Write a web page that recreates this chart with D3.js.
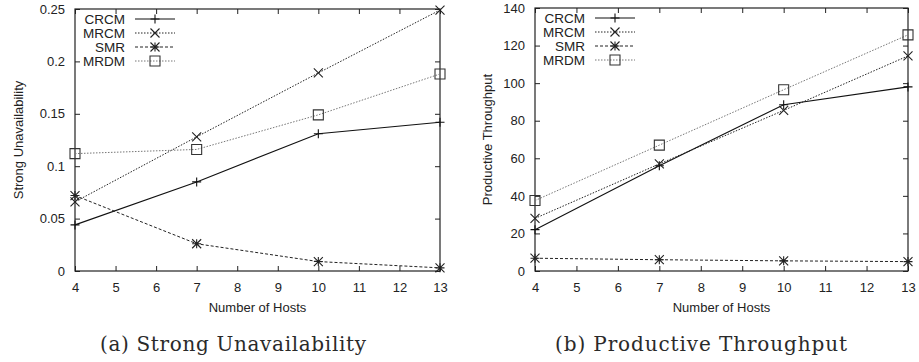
<!DOCTYPE html>
<html>
<head>
<meta charset="utf-8">
<script src="https://cdn.jsdelivr.net/npm/d3@7"></script>
<style>
  body { margin: 0; background: #fff; }
  svg { display: block; }
  .tick text { font-family: "Liberation Sans", Arial, sans-serif; font-size: 13px; fill: #222; }
  .axis-label { font-family: "Liberation Sans", Arial, sans-serif; font-size: 13px; fill: #222; }
  .legend-label { font-family: "Liberation Sans", Arial, sans-serif; font-size: 13.5px; fill: #222; }
  .caption { font-family: "DejaVu Serif", "Liberation Serif", serif; font-size: 20px; fill: #2a2a2a; }
</style>
</head>
<body>
<svg id="chart"></svg>
<script>
// Data
const hosts = [4, 7, 10, 13];
const seriesNames = ["CRCM", "MRCM", "SMR", "MRDM"];

// (a) Strong Unavailability
const unavailCRCM = [0.044, 0.085, 0.131, 0.142];
const unavailMRCM = [0.066, 0.128, 0.189, 0.249];
const unavailSMR  = [0.072, 0.026, 0.009, 0.003];
const unavailMRDM = [0.112, 0.116, 0.149, 0.188];

// (b) Productive Throughput
const thrCRCM = [22, 56, 88.5, 98];
const thrMRCM = [28, 57, 85.5, 114.5];
const thrSMR  = [6.8, 6.0, 5.4, 5.0];
const thrMRDM = [37.5, 67, 96.5, 125.7];

const xTicks = [4, 5, 6, 7, 8, 9, 10, 11, 12, 13];
const unavailTicks = [0, 0.05, 0.1, 0.15, 0.2, 0.25];
const thrTicks = [0, 20, 40, 60, 80, 100, 120, 140];

const width = 919;
const height = 362;

const svg = d3.select("#chart")
    .attr("width", width)
    .attr("height", height)
    .attr("viewBox", [0, 0, width, height]);

svg.append("rect").attr("width", width).attr("height", height).attr("fill", "#fff");

// line styles per series (gnuplot look)
const styles = {
  CRCM: { stroke: "#111", dash: null, width: 1.1, marker: "plus" },
  MRCM: { stroke: "#222", dash: "1.5,1.5", width: 1, marker: "cross" },
  SMR:  { stroke: "#222", dash: "3,2", width: 1, marker: "star" },
  MRDM: { stroke: "#777", dash: "1.5,1.5", width: 1, marker: "square" }
};

function drawMarker(g, type, cx, cy, color) {
  const s = 4.5;
  const p = g.append("path")
      .attr("fill", "none")
      .attr("stroke", color)
      .attr("stroke-width", 1.1);
  if (type === "plus") {
    p.attr("d", `M${cx - s},${cy}H${cx + s}M${cx},${cy - s}V${cy + s}`);
  } else if (type === "cross") {
    p.attr("d", `M${cx - s},${cy - s}L${cx + s},${cy + s}M${cx - s},${cy + s}L${cx + s},${cy - s}`);
  } else if (type === "star") {
    p.attr("d", `M${cx - s},${cy}H${cx + s}M${cx},${cy - s}V${cy + s}` +
      `M${cx - s},${cy - s}L${cx + s},${cy + s}M${cx - s},${cy + s}L${cx + s},${cy - s}`);
  } else {
    const q = 5;
    p.attr("d", `M${cx - q},${cy - q}H${cx + q}V${cy + q}H${cx - q}Z`).attr("stroke", "#333");
  }
}

function drawPanel(opt) {
  const g = svg.append("g");
  const x = d3.scaleLinear().domain([4, 13]).range([opt.left, opt.right]);
  const y = d3.scaleLinear().domain(opt.yDomain).range([opt.bottom, opt.top]);

  // x axis, ticks pointing inwards, mirrored on top
  g.append("g")
      .attr("transform", `translate(0,${opt.bottom})`)
      .call(d3.axisBottom(x).tickValues(xTicks).tickSize(-5).tickPadding(12).tickFormat(d3.format("d")))
      .call(a => a.select(".domain").remove());
  g.append("g")
      .attr("transform", `translate(0,${opt.top})`)
      .call(d3.axisTop(x).tickValues(xTicks).tickSize(-5).tickFormat(""))
      .call(a => a.select(".domain").remove());

  g.append("g")
      .attr("transform", `translate(${opt.left},0)`)
      .call(d3.axisLeft(y).tickValues(opt.yTicks).tickSize(-5).tickPadding(10).tickFormat(opt.yFormat))
      .call(a => a.select(".domain").remove());
  g.append("g")
      .attr("transform", `translate(${opt.right},0)`)
      .call(d3.axisRight(y).tickValues(opt.yTicks).tickSize(-5).tickFormat(""))
      .call(a => a.select(".domain").remove());

  g.selectAll(".tick line").attr("stroke", "#222");

  // frame
  g.append("rect")
      .attr("x", opt.left).attr("y", opt.top)
      .attr("width", opt.right - opt.left).attr("height", opt.bottom - opt.top)
      .attr("fill", "none").attr("stroke", "#222").attr("stroke-width", 1.2);

  // series
  const line = d3.line().x((d, i) => x(hosts[i])).y(d => y(d));
  opt.series.forEach((vals, k) => {
    const st = styles[seriesNames[k]];
    g.append("path")
        .datum(vals)
        .attr("fill", "none")
        .attr("stroke", st.stroke)
        .attr("stroke-width", st.width)
        .attr("stroke-dasharray", st.dash)
        .attr("d", line);
    vals.forEach((v, i) => drawMarker(g, st.marker, x(hosts[i]), y(v), st.stroke));
  });

  // legend
  seriesNames.forEach((name, k) => {
    const st = styles[name];
    const ly = opt.top + 10 + k * 14;
    g.append("text")
        .attr("class", "legend-label")
        .attr("x", opt.left + 50)
        .attr("y", ly)
        .attr("dy", "0.35em")
        .attr("text-anchor", "end")
        .text(name);
    g.append("line")
        .attr("x1", opt.left + 60).attr("x2", opt.left + 100)
        .attr("y1", ly).attr("y2", ly)
        .attr("stroke", st.stroke)
        .attr("stroke-width", st.width)
        .attr("stroke-dasharray", st.dash);
    drawMarker(g, st.marker, opt.left + 80, ly, st.stroke);
  });

  // axis titles
  g.append("text")
      .attr("class", "axis-label")
      .attr("x", (opt.left + opt.right) / 2)
      .attr("y", opt.bottom + 41)
      .attr("text-anchor", "middle")
      .text("Number of Hosts");
  g.append("text")
      .attr("class", "axis-label")
      .attr("transform", `translate(${opt.yLabelX},${(opt.top + opt.bottom) / 2}) rotate(-90)`)
      .attr("text-anchor", "middle")
      .text(opt.yLabel);

  // caption
  g.append("text")
      .attr("class", "caption")
      .attr("x", opt.captionX)
      .attr("y", 351)
      .attr("text-anchor", "middle")
      .attr("textLength", opt.captionWidth)
      .attr("lengthAdjust", "spacing")
      .text(opt.caption);
}

drawPanel({
  left: 75, right: 440, top: 9, bottom: 271,
  yDomain: [0, 0.25], yTicks: unavailTicks,
  yFormat: d => d === 0 ? "0" : String(d),
  series: [unavailCRCM, unavailMRCM, unavailSMR, unavailMRDM],
  yLabel: "Strong Unavailability", yLabelX: 23,
  caption: "(a) Strong Unavailability", captionX: 233, captionWidth: 266
});

drawPanel({
  left: 535, right: 908, top: 8, bottom: 271,
  yDomain: [0, 140], yTicks: thrTicks,
  yFormat: d3.format("d"),
  series: [thrCRCM, thrMRCM, thrSMR, thrMRDM],
  yLabel: "Productive Throughput", yLabelX: 492,
  caption: "(b) Productive Throughput", captionX: 701, captionWidth: 292
});
</script>
</body>
</html>
